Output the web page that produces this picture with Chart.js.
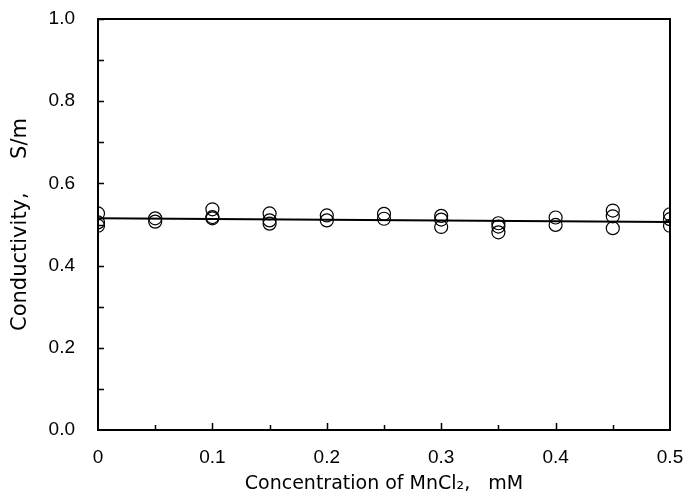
<!DOCTYPE html>
<html>
<head>
<meta charset="utf-8">
<script src="https://cdn.jsdelivr.net/npm/chart.js@4"></script>
<style>
  body { margin: 0; background: #fff; }
  #wrap { width: 685px; height: 500px; }
</style>
</head>
<body>
<div id="wrap"><canvas id="chartConductivity"></canvas></div>
<script>
// measured points (several repeats at each concentration)
const concX = [0, 0, 0, 0.05, 0.05, 0.1, 0.1, 0.1, 0.15, 0.15, 0.15, 0.2, 0.2, 0.25, 0.25, 0.3, 0.3, 0.3, 0.35, 0.35, 0.35, 0.4, 0.4, 0.45, 0.45, 0.45, 0.5, 0.5, 0.5];
const conductY = [0.527, 0.505, 0.497, 0.515, 0.507, 0.537, 0.518, 0.515, 0.527, 0.510, 0.502, 0.522, 0.510, 0.526, 0.514, 0.521, 0.512, 0.494, 0.503, 0.495, 0.481, 0.517, 0.499, 0.534, 0.520, 0.491, 0.525, 0.513, 0.497];
// fitted line
const fitX = [0, 0.5];
const fitY = [0.515, 0.506];

const chartConductivity = document.getElementById('chartConductivity');

const frame = {
    id: 'frame',
    afterDraw: function(chart) {
        const ctx = chart.ctx;
        const a = chart.chartArea;
        const xs = chart.scales.x;
        const ys = chart.scales.y;
        ctx.save();
        ctx.strokeStyle = '#000';
        ctx.lineWidth = 2;
        ctx.strokeRect(a.left, a.top, a.right - a.left, a.bottom - a.top);
        ctx.lineWidth = 1.5;
        ctx.beginPath();
        for (let v = 0.1; v < 1.0; v += 0.1) {
            const p = Math.round(ys.getPixelForValue(v)) + 0.5;
            ctx.moveTo(a.left, p);
            ctx.lineTo(a.left + 6, p);
        }
        for (let i = 1; i < 10; i++) {
            const p = Math.round(xs.getPixelForValue(i * 0.05)) + 0.5;
            const len = (i % 2 === 0) ? 7 : 5;
            ctx.moveTo(p, a.bottom);
            ctx.lineTo(p, a.bottom - len);
        }
        ctx.stroke();
        ctx.restore();
    }
};

const tickFont = 'Liberation Sans, Arial, sans-serif';
const titleFont = 'DejaVu Sans, sans-serif';

new Chart(chartConductivity, {
    type: 'scatter',
    plugins: [frame],
    data: {
        datasets: [{
            type: 'line',
            data: fitX.map((x, i) => ({x: x, y: fitY[i]})),
            borderColor: '#000',
            borderWidth: 2,
            pointRadius: 0,
            fill: false,
            order: 2
        }, {
            data: concX.map((x, i) => ({x: x, y: conductY[i]})),
            backgroundColor: 'rgba(255,255,255,0)',
            borderColor: '#000',
            borderWidth: 1.2,
            pointRadius: 6.5,
            order: 1
        }]
    },
    options: {
        responsive: true,
        maintainAspectRatio: false,
        animation: false,
        layout: { padding: { top: 19, right: 15, left: 0, bottom: 0 } },
        plugins: { legend: { display: false }, tooltip: { enabled: false } },
        scales: {
            x: {
                type: 'linear',
                min: 0,
                max: 0.5,
                grid: { display: false, drawTicks: false },
                border: { display: false },
                ticks: {
                    stepSize: 0.1,
                    color: '#000',
                    padding: 16,
                    maxRotation: 0,
                    font: { family: tickFont, size: 19 },
                    callback: function(value) { return value === 0 ? '0' : value.toFixed(1); }
                },
                title: {
                    display: true,
                    text: 'Concentration of MnCl\u2082,   mM',
                    color: '#000',
                    padding: { top: 2, bottom: 5 },
                    font: { family: titleFont, size: 19 }
                },
                afterFit: function(scale) {
                    scale.height = 70;
                    scale.paddingLeft = 0;
                    scale.paddingRight = 0;
                }
            },
            y: {
                min: 0,
                max: 1.0,
                grid: { display: false, drawTicks: false },
                border: { display: false },
                ticks: {
                    stepSize: 0.2,
                    color: '#000',
                    padding: 23,
                    font: { family: tickFont, size: 19 },
                    callback: function(value) { return value.toFixed(1); }
                },
                title: {
                    display: true,
                    text: 'Conductivity,     S/m',
                    color: '#000',
                    padding: { top: 8, bottom: 4 },
                    font: { family: titleFont, size: 21 }
                },
                afterFit: function(scale) {
                    scale.width = 98;
                    scale.paddingTop = 0;
                    scale.paddingBottom = 0;
                }
            }
        }
    }
});
</script>
</body>
</html>
